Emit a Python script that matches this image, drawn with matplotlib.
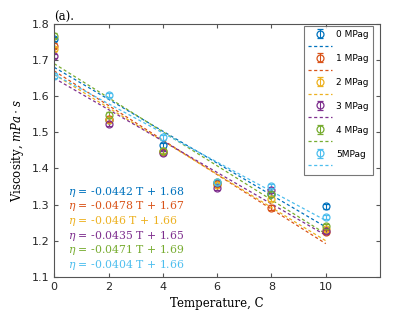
import matplotlib.pyplot as plt
import numpy as np

plt.rcParams['mathtext.fontset'] = 'dejavuserif'

temps = [0, 2, 4, 6, 8, 10]
labels = ['0 MPag', '1 MPag', '2 MPag', '3 MPag', '4 MPag', '5MPag']

# measured viscosity at each pressure
visc_0 = [1.759, 1.535, 1.464, 1.360, 1.330, 1.295]
visc_1 = [1.740, 1.538, 1.445, 1.358, 1.292, 1.224]
visc_2 = [1.730, 1.535, 1.448, 1.355, 1.316, 1.232]
visc_3 = [1.712, 1.523, 1.443, 1.346, 1.341, 1.228]
visc_4 = [1.768, 1.549, 1.447, 1.362, 1.330, 1.240]
visc_5 = [1.657, 1.603, 1.486, 1.362, 1.352, 1.265]
err = [0.006, 0.006, 0.006, 0.006, 0.006, 0.006]

# linear fits (slope, intercept)
slopes = [-0.0442, -0.0478, -0.046, -0.0435, -0.0471, -0.0404]
intercepts = [1.68, 1.67, 1.66, 1.65, 1.69, 1.66]

colors = ['#0072BD', '#D95319', '#EDB120', '#7E2F8E', '#77AC30', '#4DBEEE']
series = [visc_0, visc_1, visc_2, visc_3, visc_4, visc_5]

fig = plt.figure(figsize=(4.2, 3.15), dpi=100)
ax = fig.add_axes([0.129, 0.121, 0.776, 0.803])

handles, names = [], []
t_fit = np.array([0, 10])
for vals, c, lab, m, b in zip(series, colors, labels, slopes, intercepts):
    h = ax.errorbar(temps, vals, yerr=err, fmt='o', mfc='none', mec=c, ecolor=c,
                    ms=5, mew=0.9, elinewidth=0.8, capsize=2, capthick=0.8)
    ln, = ax.plot(t_fit, m * t_fit + b, '--', color=c, lw=0.9, dashes=(2.5, 2))
    handles += [h, ln]
    names += [lab, ' ']

for i, (c, m, b) in enumerate(zip(colors, slopes, intercepts)):
    ax.text(0.5, 1.327 - i * 0.0405, r'$\eta$ = %g T + %g' % (m, b),
            color=c, fontsize=7.8, family='serif')

ax.set_xlim(0, 12)
ax.set_ylim(1.1, 1.8)
ax.set_xticks([0, 2, 4, 6, 8, 10])
ax.set_yticks(np.arange(1.1, 1.81, 0.1))
ax.tick_params(direction='in', top=True, right=True, labelsize=8, length=3,
               color='#555555', labelcolor='#262626')
for s in ax.spines.values():
    s.set_color('#555555')
    s.set_linewidth(0.8)

ax.set_xlabel('Temperature, C', family='serif', fontsize=8.5)
ax.set_ylabel(r'Viscosity, $mPa \cdot s$', family='serif', fontsize=8.5)
ax.set_title('(a).', family='serif', fontsize=8.5, loc='left', pad=2)

leg = ax.legend(handles, names, loc='upper right', fontsize=6.5, frameon=True,
                fancybox=False, edgecolor='#555555', handlelength=2.6,
                labelspacing=0.33, borderpad=0.45, handletextpad=0.5,
                bbox_to_anchor=(0.978, 0.993), borderaxespad=0)
leg.get_frame().set_linewidth(0.8)

fig.savefig('out.png', dpi=100)
